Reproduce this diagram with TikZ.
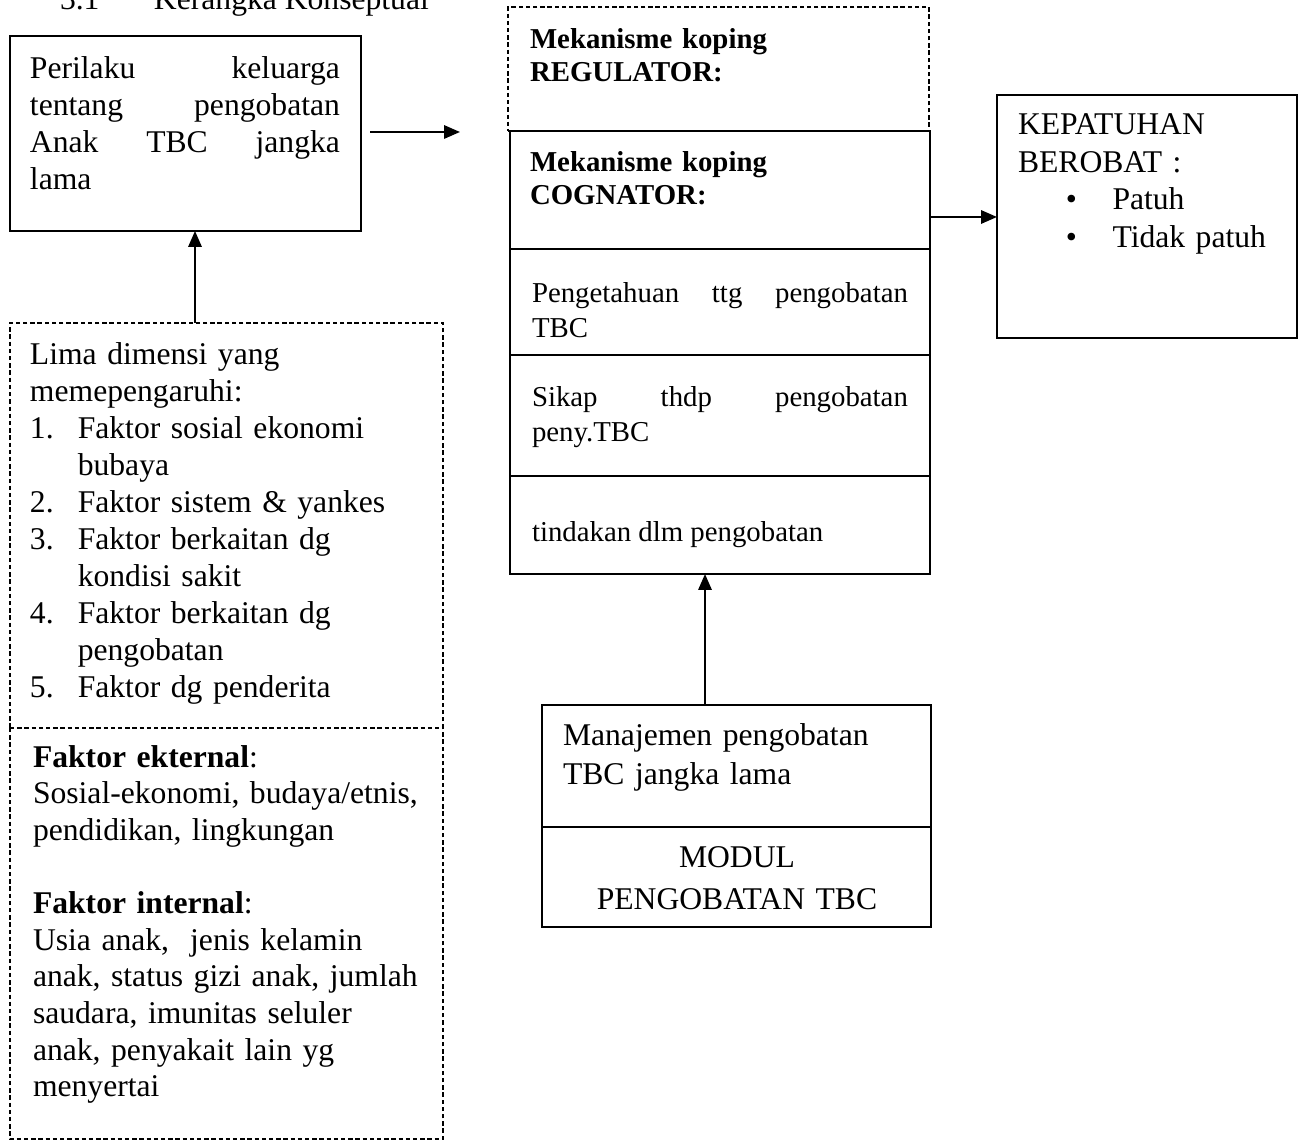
\documentclass[tikz,border=0pt]{standalone}
\usepackage{fontspec}
\setmainfont{Liberation Serif}
\usetikzlibrary{arrows.meta}
\newcommand\fbig{\fontsize{18}{21}\selectfont}
\newcommand\fmid{\fontsize{16.4}{19.8}\selectfont}
\newcommand\jline[2]{\leavevmode\hbox to #1{#2}}
\begin{document}
\begin{tikzpicture}[x=0.02cm,y=-0.02cm,
  solidbox/.style={draw, line width=1.1pt, inner sep=0pt, outer sep=0pt, anchor=north west},
  dashline/.style={line width=0.8pt, dash pattern=on 2.5pt off 1.6pt},
  dashbox/.style={draw, dashline, inner sep=0pt, outer sep=0pt, anchor=north west},
  plainbox/.style={inner sep=0pt, outer sep=0pt, anchor=north west},
  txt/.style={anchor=base west, inner sep=0pt, outer sep=0pt, align=left, font=\fbig},
  arr/.style={line width=1.2pt, -{Triangle[length=9pt,width=7.5pt]}}]
\useasboundingbox (0,0) rectangle (1301,1141);
\clip (0,0) rectangle (1301,1141);
\fill[white] (0,0) rectangle (1301,1141);

% boxes
\node[solidbox, minimum width=7.02cm, minimum height=3.9cm] (A) at (10,36) {};
\node[dashbox, minimum width=8.66cm, minimum height=8.1cm] (L1) at (10,323) {};
\node[plainbox, minimum width=8.66cm, minimum height=8.22cm] (L2) at (10,728) {};
\draw[dashline] (L2.north west) -- (L2.south west) -- (L2.south east) -- (L2.north east);
\node[dashbox, minimum width=8.42cm, minimum height=2.48cm] (R) at (508,7) {};
\node[solidbox, minimum width=8.4cm, minimum height=2.36cm] (C) at (510,131) {};
\node[solidbox, minimum width=8.4cm, minimum height=2.12cm] (P) at (510,249) {};
\node[solidbox, minimum width=8.4cm, minimum height=2.42cm] (S) at (510,355) {};
\node[solidbox, minimum width=8.4cm, minimum height=1.96cm] (T) at (510,476) {};
\node[solidbox, minimum width=6.0cm, minimum height=4.86cm] (K) at (997,95) {};
\node[solidbox, minimum width=7.78cm, minimum height=2.44cm] (M) at (542,705) {};
\node[solidbox, minimum width=7.78cm, minimum height=2.0cm] (Mo) at (542,827) {};

% texts
\node[txt] (title) at (60,10) {3.1\hspace{31pt}Kerangka Konseptual};
\node[txt, text width=6.2cm] (At) at (30,79) {\jline{6.2cm}{Perilaku\hfill keluarga}\\
  \jline{6.2cm}{tentang\hfill pengobatan}\\
  \jline{6.2cm}{Anak\hfill TBC\hfill jangka}\\
  lama};
\node[txt, text width=8.2cm] (L1t) at (30,365) {Lima dimensi yang\\
  memepengaruhi:\\
  \makebox[27.2pt][l]{1.}Faktor sosial ekonomi\\
  \hspace*{27.2pt}bubaya\\
  \makebox[27.2pt][l]{2.}Faktor sistem \& yankes\\
  \makebox[27.2pt][l]{3.}Faktor berkaitan dg\\
  \hspace*{27.2pt}kondisi sakit\\
  \makebox[27.2pt][l]{4.}Faktor berkaitan dg\\
  \hspace*{27.2pt}pengobatan\\
  \makebox[27.2pt][l]{5.}Faktor dg penderita};
\node[txt, text width=8.2cm, font=\fontsize{18}{20.85}\selectfont] (L2t) at (33,767) {\textbf{Faktor ekternal}:\\
  Sosial-ekonomi, budaya/etnis,\\
  pendidikan, lingkungan\\[20.85pt]
  \textbf{Faktor internal}:\\
  Usia anak,~ jenis kelamin\\
  anak, status gizi anak, jumlah\\
  saudara, imunitas seluler\\
  anak, penyakait lain yg\\
  menyertai};
\node[txt, text width=7.8cm, font=\fontsize{16.4}{18.3}\selectfont] (Rt) at (530,49) {\textbf{Mekanisme koping}\\ \textbf{REGULATOR:}};
\node[txt, text width=7.8cm, font=\fontsize{16.4}{18.3}\selectfont] (Ct) at (530,172) {\textbf{Mekanisme koping}\\ \textbf{COGNATOR:}};
\node[txt, text width=7.6cm, font=\fmid] (Pt) at (532,303) {\jline{7.52cm}{Pengetahuan\hfill ttg\hfill pengobatan}\\ TBC};
\node[txt, text width=7.6cm, font=\fmid] (St) at (532,407) {\jline{7.52cm}{Sikap\hfill thdp\hfill pengobatan}\\ peny.TBC};
\node[txt, font=\fmid] (Tt) at (532,542) {tindakan dlm pengobatan};
\node[txt, text width=5.5cm, font=\fontsize{18}{21.3}\selectfont] (Kt) at (1018,135) {KEPATUHAN\\
  BEROBAT :\\
  \hspace*{27.2pt}\makebox[26.6pt][l]{\textbullet}Patuh\\
  \hspace*{27.2pt}\makebox[26.6pt][l]{\textbullet}Tidak patuh};
\node[txt, text width=7.4cm, font=\fontsize{18}{22.7}\selectfont] (Mt) at (563,745) {Manajemen pengobatan\\ TBC jangka lama};
\node[anchor=base, inner sep=0pt, text width=7.6cm, align=center, font=\fontsize{18}{24.4}\selectfont] (Mot) at (737,867) {MODUL\\ PENGOBATAN TBC};

% connectors
\coordinate (a1s) at (370,132);
\coordinate (a1e) at (460,132);
\draw[arr] (a1s) -- (a1e);
\coordinate (x2) at (195,0);
\draw[arr] (L1.north -| x2) -- (A.south -| x2);
\coordinate (y3) at (0,217);
\draw[arr] (C.east |- y3) -- (K.west |- y3);
\coordinate (x4) at (705,0);
\draw[arr] (M.north -| x4) -- (T.south -| x4);
\end{tikzpicture}
\end{document}
